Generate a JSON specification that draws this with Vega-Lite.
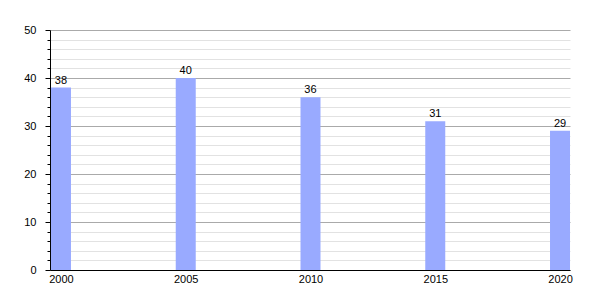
{
  "$schema": "https://vega.github.io/schema/vega-lite/v6.json",
  "autosize": "none",
  "width": 520,
  "height": 240,
  "padding": {"left": 50, "top": 30, "right": 30, "bottom": 30},
  "background": "white",
  "config": {
    "view": {"stroke": null},
    "font": "Liberation Sans",
    "axis": {"labelFont": "Liberation Sans", "labelFontSize": 11, "labelColor": "#000"}
  },
  "data": {
    "values": [
      {"year": 2000, "value": 38},
      {"year": 2005, "value": 40},
      {"year": 2010, "value": 36},
      {"year": 2015, "value": 31},
      {"year": 2020, "value": 29}
    ]
  },
  "encoding": {
    "x": {
      "field": "year",
      "type": "quantitative",
      "scale": {"domain": [1999.56, 2020.4], "nice": false, "zero": false, "padding": 0},
      "axis": {
        "title": null,
        "values": [2000, 2005, 2010, 2015, 2020],
        "format": "d",
        "grid": false,
        "ticks": false,
        "domainColor": "#000",
        "labelPadding": 3,
        "labelFlush": false
      }
    }
  },
  "layer": [
    {
      "mark": {"type": "bar", "size": 20, "color": "#99aaff"},
      "encoding": {
        "y": {
          "field": "value",
          "type": "quantitative",
          "scale": {"domain": [0, 50], "nice": false},
          "axis": {
            "orient": "left",
            "title": null,
            "values": [0, 10, 20, 30, 40, 50],
            "grid": true,
            "gridColor": "#aaaaaa",
            "gridWidth": 1,
            "tickSize": 5,
            "tickColor": "#000",
            "domainColor": "#000",
            "labelPadding": 9,
            "zindex": 0
          }
        }
      }
    },
    {
      "mark": {"type": "text", "baseline": "bottom", "dy": -2, "fontSize": 11, "color": "#000"},
      "encoding": {
        "y": {
          "field": "value",
          "type": "quantitative",
          "scale": {"domain": [0, 50], "nice": false},
          "axis": {
            "orient": "left",
            "title": null,
            "values": [2, 4, 6, 8, 12, 14, 16, 18, 22, 24, 26, 28, 32, 34, 36, 38, 42, 44, 46, 48],
            "labels": false,
            "domain": false,
            "grid": true,
            "gridColor": "#e2e2e2",
            "tickSize": 3,
            "tickColor": "#000",
            "zindex": 0
          }
        },
        "text": {"field": "value", "type": "quantitative"}
      }
    }
  ],
  "resolve": {"axis": {"y": "independent"}}
}
